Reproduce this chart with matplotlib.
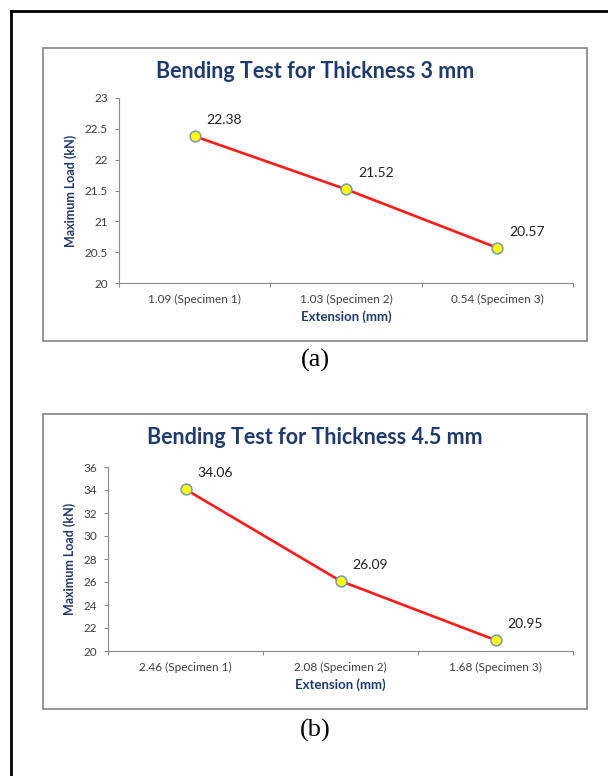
import matplotlib.pyplot as plt
from matplotlib.patches import Rectangle
from matplotlib.lines import Line2D

W, H = 608, 776

# data
spec_3mm = ["1.09 (Specimen 1)", "1.03 (Specimen 2)", "0.54 (Specimen 3)"]
load_3mm = [22.38, 21.52, 20.57]
ticks_3mm = [20, 20.5, 21, 21.5, 22, 22.5, 23]

spec_45mm = ["2.46 (Specimen 1)", "2.08 (Specimen 2)", "1.68 (Specimen 3)"]
load_45mm = [34.06, 26.09, 20.95]
ticks_45mm = [20, 22, 24, 26, 28, 30, 32, 34, 36]

navy = "#1F3A6E"
axis_gray = "#8A8A8A"
sans = ["Lato", "DejaVu Sans"]
serif = ["Liberation Serif", "DejaVu Serif"]


def fx(px):
    return px / W


def fy(py):
    return 1 - py / H


fig = plt.figure(figsize=(W / 100, H / 100), dpi=100)

# outer black frame (left and top only)
fig.add_artist(Line2D([fx(10.5), fx(10.5)], [fy(10.5), 0], color="black", lw=2.0,
                      transform=fig.transFigure, solid_capstyle="projecting"))
fig.add_artist(Line2D([fx(10.5), 1], [fy(10.5), fy(10.5)], color="black", lw=2.0,
                      transform=fig.transFigure, solid_capstyle="projecting"))


def draw_chart(box, ax_px, cats, vals, yticks, title, title_y, ylab_x, tag_y, tag):
    bx0, by0, bx1, by1 = box
    fig.add_artist(Rectangle((fx(bx0), fy(by1)), fx(bx1 - bx0), (by1 - by0) / H,
                             transform=fig.transFigure, fill=False,
                             edgecolor="#8C8C8C", lw=1.3))

    x0, y0, x1, y1 = ax_px
    ax = fig.add_axes([fx(x0), fy(y1), fx(x1 - x0), (y1 - y0) / H])
    xs = list(range(len(cats)))
    ax.plot(xs, vals, color="#FF1A1A", lw=1.9, zorder=2)
    ax.scatter(xs, vals, s=60, facecolor="#FFFF00", edgecolor="#7F9DB9",
               linewidth=1.2, zorder=3)
    for x, v in zip(xs, vals):
        ax.annotate(f"{v:.2f}", (x, v), xytext=(12, 16), textcoords="offset pixels",
                    ha="left", va="center", fontsize=10, family=sans, color="#202020")

    ax.set_xlim(-0.5, len(cats) - 0.5)
    ax.set_ylim(yticks[0], yticks[-1])
    ax.set_yticks(yticks)
    ax.set_yticklabels([f"{t:g}" for t in yticks], family=sans, fontsize=8.5,
                       color="#404040")
    ax.set_xticks(xs)
    ax.set_xticklabels(cats, family=sans, fontsize=8.5, color="#404040")
    ax.set_xticks([i - 0.5 for i in range(len(cats) + 1)], minor=True)
    ax.tick_params(axis="x", which="major", length=0, pad=8)
    ax.tick_params(axis="x", which="minor", length=3, color=axis_gray, width=0.8)
    ax.tick_params(axis="y", length=3, color=axis_gray, width=0.8, pad=5)
    for s in ["top", "right"]:
        ax.spines[s].set_visible(False)
    for s in ["left", "bottom"]:
        ax.spines[s].set_color(axis_gray)
        ax.spines[s].set_linewidth(0.8)
    ax.set_xlabel("Extension (mm)", family=sans, fontsize=9.5, fontweight="bold",
                  color=navy, labelpad=4)

    fig.text(fx((bx0 + bx1) / 2), fy(title_y), title, ha="center", va="center",
             family=sans, fontsize=15.5, fontweight="bold", color=navy)
    fig.text(fx(ylab_x), fy((y0 + y1) / 2), "Maximum Load (kN)", rotation=90,
             ha="center", va="center", family=sans, fontsize=9,
             fontweight="bold", color=navy)
    fig.text(fx(315), fy(tag_y), tag, ha="center", va="center", family=serif,
             fontsize=19, color="black")
    return ax


draw_chart((43, 48, 587, 341), (119, 98, 573, 283), spec_3mm, load_3mm, ticks_3mm,
           "Bending Test for Thickness 3 mm", 71, 71, 360, "(a)")
draw_chart((43, 414, 587, 709), (108, 467, 573, 651), spec_45mm, load_45mm, ticks_45mm,
           "Bending Test for Thickness 4.5 mm", 438, 70, 730, "(b)")

fig.savefig("out.png", dpi=100)
